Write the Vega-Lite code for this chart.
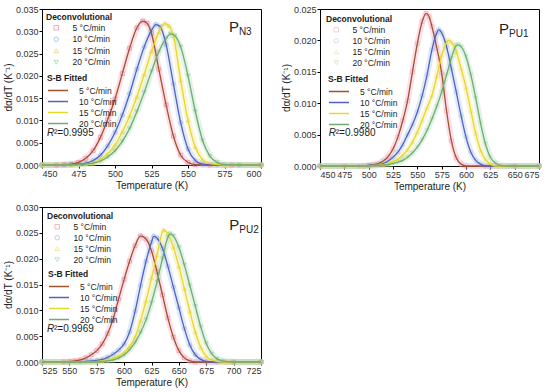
{
  "$schema": "https://vega.github.io/schema/vega-lite/v6.json",
  "padding": {"left": 2, "top": 4, "right": 4, "bottom": 2},
  "background": "white",
  "datasets": {
    "n3": [
      {"T":450,"v":0,"r":"5 °C/min"},{"T":460,"v":0,"r":"5 °C/min"},{"T":465,"v":0.0001,"r":"5 °C/min"},{"T":470,"v":0.0002,"r":"5 °C/min"},{"T":475,"v":0.0006,"r":"5 °C/min"},{"T":480,"v":0.0015,"r":"5 °C/min"},{"T":485,"v":0.0032,"r":"5 °C/min"},{"T":490,"v":0.0062,"r":"5 °C/min"},{"T":495,"v":0.0102,"r":"5 °C/min"},{"T":500,"v":0.0148,"r":"5 °C/min"},{"T":505,"v":0.0205,"r":"5 °C/min"},{"T":510,"v":0.0262,"r":"5 °C/min"},{"T":515,"v":0.0308,"r":"5 °C/min"},{"T":519,"v":0.0323,"r":"5 °C/min"},{"T":522,"v":0.0318,"r":"5 °C/min"},{"T":525,"v":0.0295,"r":"5 °C/min"},{"T":530,"v":0.0215,"r":"5 °C/min"},{"T":535,"v":0.0135,"r":"5 °C/min"},{"T":540,"v":0.0065,"r":"5 °C/min"},{"T":545,"v":0.0022,"r":"5 °C/min"},{"T":550,"v":0.0006,"r":"5 °C/min"},{"T":555,"v":0.0001,"r":"5 °C/min"},{"T":565,"v":0,"r":"5 °C/min"},{"T":580,"v":0,"r":"5 °C/min"},{"T":600,"v":0,"r":"5 °C/min"},
      {"T":450,"v":0,"r":"10 °C/min"},{"T":465,"v":0,"r":"10 °C/min"},{"T":470,"v":0.0001,"r":"10 °C/min"},{"T":475,"v":0.0002,"r":"10 °C/min"},{"T":480,"v":0.0004,"r":"10 °C/min"},{"T":485,"v":0.001,"r":"10 °C/min"},{"T":490,"v":0.0022,"r":"10 °C/min"},{"T":495,"v":0.0043,"r":"10 °C/min"},{"T":500,"v":0.0073,"r":"10 °C/min"},{"T":505,"v":0.0112,"r":"10 °C/min"},{"T":510,"v":0.016,"r":"10 °C/min"},{"T":515,"v":0.0215,"r":"10 °C/min"},{"T":520,"v":0.0265,"r":"10 °C/min"},{"T":525,"v":0.0302,"r":"10 °C/min"},{"T":528,"v":0.0315,"r":"10 °C/min"},{"T":531,"v":0.031,"r":"10 °C/min"},{"T":535,"v":0.027,"r":"10 °C/min"},{"T":540,"v":0.0182,"r":"10 °C/min"},{"T":545,"v":0.0095,"r":"10 °C/min"},{"T":550,"v":0.0036,"r":"10 °C/min"},{"T":555,"v":0.001,"r":"10 °C/min"},{"T":560,"v":0.0002,"r":"10 °C/min"},{"T":570,"v":0,"r":"10 °C/min"},{"T":585,"v":0,"r":"10 °C/min"},{"T":600,"v":0,"r":"10 °C/min"},
      {"T":450,"v":0,"r":"15 °C/min"},{"T":470,"v":0,"r":"15 °C/min"},{"T":475,"v":0.0001,"r":"15 °C/min"},{"T":480,"v":0.0002,"r":"15 °C/min"},{"T":485,"v":0.0005,"r":"15 °C/min"},{"T":490,"v":0.0012,"r":"15 °C/min"},{"T":495,"v":0.0025,"r":"15 °C/min"},{"T":500,"v":0.0045,"r":"15 °C/min"},{"T":505,"v":0.0074,"r":"15 °C/min"},{"T":510,"v":0.011,"r":"15 °C/min"},{"T":515,"v":0.0153,"r":"15 °C/min"},{"T":520,"v":0.0203,"r":"15 °C/min"},{"T":525,"v":0.0255,"r":"15 °C/min"},{"T":530,"v":0.0298,"r":"15 °C/min"},{"T":534,"v":0.0317,"r":"15 °C/min"},{"T":537,"v":0.0312,"r":"15 °C/min"},{"T":540,"v":0.029,"r":"15 °C/min"},{"T":545,"v":0.019,"r":"15 °C/min"},{"T":550,"v":0.01,"r":"15 °C/min"},{"T":555,"v":0.004,"r":"15 °C/min"},{"T":560,"v":0.0012,"r":"15 °C/min"},{"T":565,"v":0.0003,"r":"15 °C/min"},{"T":575,"v":0,"r":"15 °C/min"},{"T":600,"v":0,"r":"15 °C/min"},
      {"T":450,"v":0,"r":"20 °C/min"},{"T":470,"v":0,"r":"20 °C/min"},{"T":475,"v":0.0001,"r":"20 °C/min"},{"T":480,"v":0.0002,"r":"20 °C/min"},{"T":485,"v":0.0004,"r":"20 °C/min"},{"T":490,"v":0.0009,"r":"20 °C/min"},{"T":495,"v":0.0018,"r":"20 °C/min"},{"T":500,"v":0.0032,"r":"20 °C/min"},{"T":505,"v":0.0053,"r":"20 °C/min"},{"T":510,"v":0.0082,"r":"20 °C/min"},{"T":515,"v":0.012,"r":"20 °C/min"},{"T":520,"v":0.0163,"r":"20 °C/min"},{"T":525,"v":0.021,"r":"20 °C/min"},{"T":530,"v":0.0254,"r":"20 °C/min"},{"T":535,"v":0.0284,"r":"20 °C/min"},{"T":538,"v":0.0294,"r":"20 °C/min"},{"T":541,"v":0.029,"r":"20 °C/min"},{"T":545,"v":0.0265,"r":"20 °C/min"},{"T":550,"v":0.02,"r":"20 °C/min"},{"T":555,"v":0.012,"r":"20 °C/min"},{"T":560,"v":0.0055,"r":"20 °C/min"},{"T":565,"v":0.002,"r":"20 °C/min"},{"T":570,"v":0.0006,"r":"20 °C/min"},{"T":575,"v":0.0001,"r":"20 °C/min"},{"T":585,"v":0,"r":"20 °C/min"},{"T":600,"v":0,"r":"20 °C/min"}
    ],
    "pu1": [
      {"T":450,"v":0,"r":"5 °C/min"},{"T":475,"v":0,"r":"5 °C/min"},{"T":495,"v":0,"r":"5 °C/min"},{"T":500,"v":0.0001,"r":"5 °C/min"},{"T":505,"v":0.0002,"r":"5 °C/min"},{"T":510,"v":0.0004,"r":"5 °C/min"},{"T":515,"v":0.0008,"r":"5 °C/min"},{"T":520,"v":0.0015,"r":"5 °C/min"},{"T":525,"v":0.0027,"r":"5 °C/min"},{"T":530,"v":0.0046,"r":"5 °C/min"},{"T":535,"v":0.0072,"r":"5 °C/min"},{"T":540,"v":0.0104,"r":"5 °C/min"},{"T":545,"v":0.015,"r":"5 °C/min"},{"T":550,"v":0.0195,"r":"5 °C/min"},{"T":555,"v":0.023,"r":"5 °C/min"},{"T":559,"v":0.0243,"r":"5 °C/min"},{"T":562,"v":0.0238,"r":"5 °C/min"},{"T":565,"v":0.0222,"r":"5 °C/min"},{"T":570,"v":0.0188,"r":"5 °C/min"},{"T":575,"v":0.0148,"r":"5 °C/min"},{"T":580,"v":0.0088,"r":"5 °C/min"},{"T":585,"v":0.004,"r":"5 °C/min"},{"T":590,"v":0.0013,"r":"5 °C/min"},{"T":595,"v":0.0003,"r":"5 °C/min"},{"T":600,"v":0,"r":"5 °C/min"},{"T":625,"v":0,"r":"5 °C/min"},{"T":650,"v":0,"r":"5 °C/min"},{"T":675,"v":0,"r":"5 °C/min"},
      {"T":450,"v":0,"r":"10 °C/min"},{"T":490,"v":0,"r":"10 °C/min"},{"T":500,"v":0.0001,"r":"10 °C/min"},{"T":510,"v":0.0002,"r":"10 °C/min"},{"T":515,"v":0.0004,"r":"10 °C/min"},{"T":520,"v":0.0008,"r":"10 °C/min"},{"T":525,"v":0.0014,"r":"10 °C/min"},{"T":530,"v":0.0022,"r":"10 °C/min"},{"T":535,"v":0.0034,"r":"10 °C/min"},{"T":540,"v":0.005,"r":"10 °C/min"},{"T":545,"v":0.0066,"r":"10 °C/min"},{"T":550,"v":0.0086,"r":"10 °C/min"},{"T":555,"v":0.0112,"r":"10 °C/min"},{"T":560,"v":0.0145,"r":"10 °C/min"},{"T":565,"v":0.0185,"r":"10 °C/min"},{"T":570,"v":0.0212,"r":"10 °C/min"},{"T":572,"v":0.0217,"r":"10 °C/min"},{"T":575,"v":0.0212,"r":"10 °C/min"},{"T":580,"v":0.019,"r":"10 °C/min"},{"T":585,"v":0.0155,"r":"10 °C/min"},{"T":590,"v":0.0118,"r":"10 °C/min"},{"T":595,"v":0.008,"r":"10 °C/min"},{"T":600,"v":0.0046,"r":"10 °C/min"},{"T":605,"v":0.0022,"r":"10 °C/min"},{"T":610,"v":0.0009,"r":"10 °C/min"},{"T":615,"v":0.0003,"r":"10 °C/min"},{"T":620,"v":0,"r":"10 °C/min"},{"T":650,"v":0,"r":"10 °C/min"},{"T":675,"v":0,"r":"10 °C/min"},
      {"T":450,"v":0,"r":"15 °C/min"},{"T":495,"v":0,"r":"15 °C/min"},{"T":505,"v":0.0001,"r":"15 °C/min"},{"T":515,"v":0.0002,"r":"15 °C/min"},{"T":520,"v":0.0004,"r":"15 °C/min"},{"T":525,"v":0.0007,"r":"15 °C/min"},{"T":530,"v":0.0011,"r":"15 °C/min"},{"T":535,"v":0.0017,"r":"15 °C/min"},{"T":540,"v":0.0026,"r":"15 °C/min"},{"T":545,"v":0.0038,"r":"15 °C/min"},{"T":550,"v":0.0054,"r":"15 °C/min"},{"T":555,"v":0.0073,"r":"15 °C/min"},{"T":560,"v":0.0093,"r":"15 °C/min"},{"T":565,"v":0.0112,"r":"15 °C/min"},{"T":570,"v":0.0143,"r":"15 °C/min"},{"T":575,"v":0.0176,"r":"15 °C/min"},{"T":580,"v":0.0197,"r":"15 °C/min"},{"T":582,"v":0.02,"r":"15 °C/min"},{"T":585,"v":0.0197,"r":"15 °C/min"},{"T":590,"v":0.0182,"r":"15 °C/min"},{"T":595,"v":0.0155,"r":"15 °C/min"},{"T":600,"v":0.0125,"r":"15 °C/min"},{"T":605,"v":0.0088,"r":"15 °C/min"},{"T":610,"v":0.0052,"r":"15 °C/min"},{"T":615,"v":0.0025,"r":"15 °C/min"},{"T":620,"v":0.001,"r":"15 °C/min"},{"T":625,"v":0.0003,"r":"15 °C/min"},{"T":630,"v":0,"r":"15 °C/min"},{"T":650,"v":0,"r":"15 °C/min"},{"T":675,"v":0,"r":"15 °C/min"},
      {"T":450,"v":0,"r":"20 °C/min"},{"T":500,"v":0,"r":"20 °C/min"},{"T":510,"v":0.0001,"r":"20 °C/min"},{"T":520,"v":0.0002,"r":"20 °C/min"},{"T":525,"v":0.0004,"r":"20 °C/min"},{"T":530,"v":0.0006,"r":"20 °C/min"},{"T":535,"v":0.0009,"r":"20 °C/min"},{"T":540,"v":0.0014,"r":"20 °C/min"},{"T":545,"v":0.0021,"r":"20 °C/min"},{"T":550,"v":0.003,"r":"20 °C/min"},{"T":555,"v":0.0042,"r":"20 °C/min"},{"T":560,"v":0.0057,"r":"20 °C/min"},{"T":565,"v":0.0075,"r":"20 °C/min"},{"T":570,"v":0.0095,"r":"20 °C/min"},{"T":575,"v":0.0118,"r":"20 °C/min"},{"T":580,"v":0.0145,"r":"20 °C/min"},{"T":585,"v":0.0172,"r":"20 °C/min"},{"T":590,"v":0.0192,"r":"20 °C/min"},{"T":592,"v":0.0193,"r":"20 °C/min"},{"T":595,"v":0.019,"r":"20 °C/min"},{"T":600,"v":0.0174,"r":"20 °C/min"},{"T":605,"v":0.0145,"r":"20 °C/min"},{"T":610,"v":0.0108,"r":"20 °C/min"},{"T":615,"v":0.0068,"r":"20 °C/min"},{"T":620,"v":0.0035,"r":"20 °C/min"},{"T":625,"v":0.0014,"r":"20 °C/min"},{"T":630,"v":0.0005,"r":"20 °C/min"},{"T":635,"v":0.0001,"r":"20 °C/min"},{"T":645,"v":0,"r":"20 °C/min"},{"T":675,"v":0,"r":"20 °C/min"}
    ],
    "pu2": [
      {"T":525,"v":0,"r":"5 °C/min"},{"T":545,"v":0,"r":"5 °C/min"},{"T":550,"v":0.0001,"r":"5 °C/min"},{"T":555,"v":0.0002,"r":"5 °C/min"},{"T":560,"v":0.0004,"r":"5 °C/min"},{"T":565,"v":0.0008,"r":"5 °C/min"},{"T":570,"v":0.0014,"r":"5 °C/min"},{"T":575,"v":0.0022,"r":"5 °C/min"},{"T":580,"v":0.0035,"r":"5 °C/min"},{"T":585,"v":0.0055,"r":"5 °C/min"},{"T":590,"v":0.0084,"r":"5 °C/min"},{"T":595,"v":0.0122,"r":"5 °C/min"},{"T":600,"v":0.016,"r":"5 °C/min"},{"T":605,"v":0.0195,"r":"5 °C/min"},{"T":610,"v":0.0225,"r":"5 °C/min"},{"T":615,"v":0.0244,"r":"5 °C/min"},{"T":620,"v":0.0238,"r":"5 °C/min"},{"T":625,"v":0.0215,"r":"5 °C/min"},{"T":630,"v":0.0175,"r":"5 °C/min"},{"T":635,"v":0.013,"r":"5 °C/min"},{"T":640,"v":0.0085,"r":"5 °C/min"},{"T":645,"v":0.0048,"r":"5 °C/min"},{"T":650,"v":0.0022,"r":"5 °C/min"},{"T":655,"v":0.0008,"r":"5 °C/min"},{"T":660,"v":0.0002,"r":"5 °C/min"},{"T":665,"v":0,"r":"5 °C/min"},{"T":700,"v":0,"r":"5 °C/min"},{"T":725,"v":0,"r":"5 °C/min"},
      {"T":525,"v":0,"r":"10 °C/min"},{"T":560,"v":0,"r":"10 °C/min"},{"T":565,"v":0.0001,"r":"10 °C/min"},{"T":570,"v":0.0002,"r":"10 °C/min"},{"T":575,"v":0.0003,"r":"10 °C/min"},{"T":580,"v":0.0005,"r":"10 °C/min"},{"T":585,"v":0.0009,"r":"10 °C/min"},{"T":590,"v":0.0015,"r":"10 °C/min"},{"T":595,"v":0.0023,"r":"10 °C/min"},{"T":600,"v":0.0035,"r":"10 °C/min"},{"T":605,"v":0.0058,"r":"10 °C/min"},{"T":610,"v":0.0098,"r":"10 °C/min"},{"T":615,"v":0.0148,"r":"10 °C/min"},{"T":620,"v":0.0195,"r":"10 °C/min"},{"T":625,"v":0.0232,"r":"10 °C/min"},{"T":627,"v":0.0243,"r":"10 °C/min"},{"T":630,"v":0.024,"r":"10 °C/min"},{"T":635,"v":0.022,"r":"10 °C/min"},{"T":640,"v":0.0185,"r":"10 °C/min"},{"T":645,"v":0.0145,"r":"10 °C/min"},{"T":650,"v":0.0105,"r":"10 °C/min"},{"T":655,"v":0.0065,"r":"10 °C/min"},{"T":660,"v":0.0033,"r":"10 °C/min"},{"T":665,"v":0.0014,"r":"10 °C/min"},{"T":670,"v":0.0005,"r":"10 °C/min"},{"T":675,"v":0.0001,"r":"10 °C/min"},{"T":685,"v":0,"r":"10 °C/min"},{"T":725,"v":0,"r":"10 °C/min"},
      {"T":525,"v":0,"r":"15 °C/min"},{"T":570,"v":0,"r":"15 °C/min"},{"T":575,"v":0.0001,"r":"15 °C/min"},{"T":580,"v":0.0002,"r":"15 °C/min"},{"T":585,"v":0.0004,"r":"15 °C/min"},{"T":590,"v":0.0007,"r":"15 °C/min"},{"T":595,"v":0.0011,"r":"15 °C/min"},{"T":600,"v":0.0018,"r":"15 °C/min"},{"T":605,"v":0.003,"r":"15 °C/min"},{"T":610,"v":0.0048,"r":"15 °C/min"},{"T":615,"v":0.008,"r":"15 °C/min"},{"T":620,"v":0.0118,"r":"15 °C/min"},{"T":625,"v":0.0162,"r":"15 °C/min"},{"T":630,"v":0.0207,"r":"15 °C/min"},{"T":636,"v":0.0255,"r":"15 °C/min"},{"T":640,"v":0.0248,"r":"15 °C/min"},{"T":645,"v":0.0222,"r":"15 °C/min"},{"T":650,"v":0.0185,"r":"15 °C/min"},{"T":655,"v":0.0142,"r":"15 °C/min"},{"T":660,"v":0.0098,"r":"15 °C/min"},{"T":665,"v":0.0058,"r":"15 °C/min"},{"T":670,"v":0.0028,"r":"15 °C/min"},{"T":675,"v":0.0011,"r":"15 °C/min"},{"T":680,"v":0.0004,"r":"15 °C/min"},{"T":685,"v":0.0001,"r":"15 °C/min"},{"T":695,"v":0,"r":"15 °C/min"},{"T":725,"v":0,"r":"15 °C/min"},
      {"T":525,"v":0,"r":"20 °C/min"},{"T":575,"v":0,"r":"20 °C/min"},{"T":580,"v":0.0001,"r":"20 °C/min"},{"T":585,"v":0.0002,"r":"20 °C/min"},{"T":590,"v":0.0004,"r":"20 °C/min"},{"T":595,"v":0.0008,"r":"20 °C/min"},{"T":600,"v":0.0014,"r":"20 °C/min"},{"T":605,"v":0.0024,"r":"20 °C/min"},{"T":610,"v":0.0038,"r":"20 °C/min"},{"T":615,"v":0.0057,"r":"20 °C/min"},{"T":620,"v":0.0082,"r":"20 °C/min"},{"T":625,"v":0.0115,"r":"20 °C/min"},{"T":630,"v":0.0155,"r":"20 °C/min"},{"T":635,"v":0.02,"r":"20 °C/min"},{"T":640,"v":0.0242,"r":"20 °C/min"},{"T":642,"v":0.0248,"r":"20 °C/min"},{"T":645,"v":0.0244,"r":"20 °C/min"},{"T":650,"v":0.0222,"r":"20 °C/min"},{"T":655,"v":0.0188,"r":"20 °C/min"},{"T":660,"v":0.0148,"r":"20 °C/min"},{"T":665,"v":0.0108,"r":"20 °C/min"},{"T":670,"v":0.0068,"r":"20 °C/min"},{"T":675,"v":0.0036,"r":"20 °C/min"},{"T":680,"v":0.0016,"r":"20 °C/min"},{"T":685,"v":0.0006,"r":"20 °C/min"},{"T":690,"v":0.0002,"r":"20 °C/min"},{"T":700,"v":0,"r":"20 °C/min"},{"T":725,"v":0,"r":"20 °C/min"}
    ]
  },
  "resolve": {"scale": {"color": "independent", "shape": "independent", "stroke": "independent", "fill": "independent"}, "legend": {"color": "independent", "shape": "independent", "stroke": "independent"}},
  "vconcat": [
    {
      "resolve": {"scale": {"color": "independent", "shape": "independent", "stroke": "independent", "fill": "independent"}, "legend": {"color": "independent", "shape": "independent", "stroke": "independent"}},
      "hconcat": [
        {
          "width": 219, "height": 156,
          "data": {"name": "n3"},
          "layer": [
            {"mark": {"type": "trail", "opacity": 0.35},
             "encoding": {"x": {"field": "T", "type": "quantitative", "scale": {"domain": [450, 600], "nice": false}, "axis": {"values": [450,475,500,525,550,575,600], "title": "Temperature (K)"}},
                          "y": {"field": "v", "type": "quantitative", "scale": {"domain": [0, 0.035], "nice": false}, "axis": {"values": [0,0.005,0.01,0.015,0.02,0.025,0.03,0.035], "format": ".3f", "title": "dα/dT (K⁻¹)"}},
                          "fill": {"field": "r", "type": "nominal", "scale": {"domain": ["5 °C/min","10 °C/min","15 °C/min","20 °C/min"], "range": ["#f5a3bd","#a6c4ef","#f3e27e","#a9deb1"]}, "legend": null},
                          "size": {"value": 6}}},
            {"mark": {"type": "point", "filled": false, "size": 14, "strokeWidth": 0.8, "opacity": 0.9},
             "encoding": {"x": {"field": "T", "type": "quantitative", "axis": {"values": [450,475,500,525,550,575,600], "title": "Temperature (K)"}}, "y": {"field": "v", "type": "quantitative", "axis": {"values": [0,0.005,0.01,0.015,0.02,0.025,0.03,0.035], "format": ".3f", "title": "dα/dT (K⁻¹)"}},
                          "color": {"field": "r", "type": "nominal", "scale": {"domain": ["5 °C/min","10 °C/min","15 °C/min","20 °C/min"], "range": ["#f08aa8","#8fb3ea","#eed45a","#8fd49b"]}, "legend": {"title": "Deconvolutional", "orient": "top-left", "offset": 4, "symbolOffset": 6, "labelOffset": 12, "rowPadding": 2.5}},
                          "shape": {"field": "r", "type": "nominal", "scale": {"domain": ["5 °C/min","10 °C/min","15 °C/min","20 °C/min"], "range": ["square","circle","triangle-up","triangle-down"]}, "legend": {"title": "Deconvolutional", "orient": "top-left", "offset": 4, "symbolOffset": 6, "labelOffset": 12, "rowPadding": 2.5}}}},
            {"mark": {"type": "line", "strokeWidth": 1.3, "interpolate": "monotone"},
             "encoding": {"x": {"field": "T", "type": "quantitative", "axis": {"values": [450,475,500,525,550,575,600], "title": "Temperature (K)"}}, "y": {"field": "v", "type": "quantitative", "axis": {"values": [0,0.005,0.01,0.015,0.02,0.025,0.03,0.035], "format": ".3f", "title": "dα/dT (K⁻¹)"}},
                          "stroke": {"field": "r", "type": "nominal", "scale": {"domain": ["5 °C/min","10 °C/min","15 °C/min","20 °C/min"], "range": ["#a3502e","#5360c2","#e3d82c","#6fab72"]}, "legend": {"title": "S-B Fitted", "orient": "none", "legendX": 5, "legendY": 65, "symbolType": "M-2,0H2", "symbolSize": 100, "symbolStrokeWidth": 1.5, "symbolOffset": 5, "labelOffset": 15, "rowPadding": -1}}}},
            {"data": {"values": [{}]}, "mark": {"type": "text", "fontSize": 10, "fontStyle": "italic", "align": "left", "baseline": "middle"},
             "encoding": {"x": {"datum": 453.4, "axis": {"values": [450,475,500,525,550,575,600], "title": "Temperature (K)"}}, "y": {"datum": 0.0072, "axis": {"values": [0,0.005,0.01,0.015,0.02,0.025,0.03,0.035], "format": ".3f", "title": "dα/dT (K⁻¹)"}}, "text": {"value": "R"}}},
            {"data": {"values": [{}]}, "mark": {"type": "text", "fontSize": 10, "align": "left", "baseline": "middle", "dx": 7},
             "encoding": {"x": {"datum": 453.4, "axis": {"values": [450,475,500,525,550,575,600], "title": "Temperature (K)"}}, "y": {"datum": 0.0072, "axis": {"values": [0,0.005,0.01,0.015,0.02,0.025,0.03,0.035], "format": ".3f", "title": "dα/dT (K⁻¹)"}}, "text": {"value": "²=0.9995"}}},
            {"data": {"values": [{}]}, "mark": {"type": "text", "fontSize": 15, "align": "left", "baseline": "alphabetic"},
             "encoding": {"x": {"datum": 578, "axis": {"values": [450,475,500,525,550,575,600], "title": "Temperature (K)"}}, "y": {"datum": 0.0298, "axis": {"values": [0,0.005,0.01,0.015,0.02,0.025,0.03,0.035], "format": ".3f", "title": "dα/dT (K⁻¹)"}}, "text": {"value": "P"}}},
            {"data": {"values": [{}]}, "mark": {"type": "text", "fontSize": 10, "align": "left", "baseline": "alphabetic", "dx": 10, "dy": 3},
             "encoding": {"x": {"datum": 578, "axis": {"values": [450,475,500,525,550,575,600], "title": "Temperature (K)"}}, "y": {"datum": 0.0298, "axis": {"values": [0,0.005,0.01,0.015,0.02,0.025,0.03,0.035], "format": ".3f", "title": "dα/dT (K⁻¹)"}}, "text": {"value": "N3"}}}
          ],
          "resolve": {"scale": {"fill": "independent"}}
        },
        {
          "width": 219, "height": 157,
          "data": {"name": "pu1"},
          "layer": [
            {"mark": {"type": "trail", "opacity": 0.35},
             "encoding": {"x": {"field": "T", "type": "quantitative", "scale": {"domain": [450, 675], "nice": false}, "axis": {"values": [450,475,500,525,550,575,600,625,650,675], "title": "Temperature (K)"}},
                          "y": {"field": "v", "type": "quantitative", "scale": {"domain": [0, 0.025], "nice": false}, "axis": {"values": [0,0.005,0.01,0.015,0.02,0.025], "format": ".3f", "title": "dα/dT (K⁻¹)"}},
                          "fill": {"field": "r", "type": "nominal", "scale": {"domain": ["5 °C/min","10 °C/min","15 °C/min","20 °C/min"], "range": ["#f5a3bd","#a6c4ef","#f3e27e","#a9deb1"]}, "legend": null},
                          "size": {"value": 6}}},
            {"mark": {"type": "point", "filled": false, "size": 14, "strokeWidth": 0.8, "opacity": 0.5},
             "encoding": {"x": {"field": "T", "type": "quantitative", "axis": {"values": [450,475,500,525,550,575,600,625,650,675], "title": "Temperature (K)"}}, "y": {"field": "v", "type": "quantitative", "axis": {"values": [0,0.005,0.01,0.015,0.02,0.025], "format": ".3f", "title": "dα/dT (K⁻¹)"}},
                          "color": {"field": "r", "type": "nominal", "scale": {"domain": ["5 °C/min","10 °C/min","15 °C/min","20 °C/min"], "range": ["#f08aa8","#8fb3ea","#eed45a","#8fd49b"]}, "legend": {"title": "Deconvolutional", "orient": "top-left", "offset": 6, "symbolOffset": 6, "labelOffset": 12, "rowPadding": 2, "symbolOpacity": 0.5}},
                          "shape": {"field": "r", "type": "nominal", "scale": {"domain": ["5 °C/min","10 °C/min","15 °C/min","20 °C/min"], "range": ["square","circle","triangle-up","triangle-down"]}, "legend": {"title": "Deconvolutional", "orient": "top-left", "offset": 6, "symbolOffset": 6, "labelOffset": 12, "rowPadding": 2, "symbolOpacity": 0.5}}}},
            {"mark": {"type": "line", "strokeWidth": 1.3, "interpolate": "monotone"},
             "encoding": {"x": {"field": "T", "type": "quantitative", "axis": {"values": [450,475,500,525,550,575,600,625,650,675], "title": "Temperature (K)"}}, "y": {"field": "v", "type": "quantitative", "axis": {"values": [0,0.005,0.01,0.015,0.02,0.025], "format": ".3f", "title": "dα/dT (K⁻¹)"}},
                          "stroke": {"field": "r", "type": "nominal", "scale": {"domain": ["5 °C/min","10 °C/min","15 °C/min","20 °C/min"], "range": ["#a3502e","#5360c2","#e3d82c","#6fab72"]}, "legend": {"title": "S-B Fitted", "orient": "none", "legendX": 8, "legendY": 66, "symbolType": "M-2,0H2", "symbolSize": 100, "symbolStrokeWidth": 1.5, "symbolOffset": 5, "labelOffset": 15, "rowPadding": -1}}}},
            {"data": {"values": [{}]}, "mark": {"type": "text", "fontSize": 10, "fontStyle": "italic", "align": "left", "baseline": "middle"},
             "encoding": {"x": {"datum": 459, "axis": {"values": [450,475,500,525,550,575,600,625,650,675], "title": "Temperature (K)"}}, "y": {"datum": 0.0052, "axis": {"values": [0,0.005,0.01,0.015,0.02,0.025], "format": ".3f", "title": "dα/dT (K⁻¹)"}}, "text": {"value": "R"}}},
            {"data": {"values": [{}]}, "mark": {"type": "text", "fontSize": 10, "align": "left", "baseline": "middle", "dx": 7},
             "encoding": {"x": {"datum": 459, "axis": {"values": [450,475,500,525,550,575,600,625,650,675], "title": "Temperature (K)"}}, "y": {"datum": 0.0052, "axis": {"values": [0,0.005,0.01,0.015,0.02,0.025], "format": ".3f", "title": "dα/dT (K⁻¹)"}}, "text": {"value": "²=0.9980"}}},
            {"data": {"values": [{}]}, "mark": {"type": "text", "fontSize": 15, "align": "left", "baseline": "alphabetic"},
             "encoding": {"x": {"datum": 634, "axis": {"values": [450,475,500,525,550,575,600,625,650,675], "title": "Temperature (K)"}}, "y": {"datum": 0.021, "axis": {"values": [0,0.005,0.01,0.015,0.02,0.025], "format": ".3f", "title": "dα/dT (K⁻¹)"}}, "text": {"value": "P"}}},
            {"data": {"values": [{}]}, "mark": {"type": "text", "fontSize": 10, "align": "left", "baseline": "alphabetic", "dx": 10, "dy": 3},
             "encoding": {"x": {"datum": 634, "axis": {"values": [450,475,500,525,550,575,600,625,650,675], "title": "Temperature (K)"}}, "y": {"datum": 0.021, "axis": {"values": [0,0.005,0.01,0.015,0.02,0.025], "format": ".3f", "title": "dα/dT (K⁻¹)"}}, "text": {"value": "PU1"}}}
          ],
          "resolve": {"scale": {"fill": "independent"}}
        }
      ],
      "spacing": 15
    },
    {
      "width": 219, "height": 155,
      "data": {"name": "pu2"},
      "layer": [
        {"mark": {"type": "trail", "opacity": 0.35},
         "encoding": {"x": {"field": "T", "type": "quantitative", "scale": {"domain": [525, 725], "nice": false}, "axis": {"values": [525,550,575,600,625,650,675,700,725], "title": "Temperature (K)"}},
                      "y": {"field": "v", "type": "quantitative", "scale": {"domain": [0, 0.03], "nice": false}, "axis": {"values": [0,0.005,0.01,0.015,0.02,0.025,0.03], "format": ".3f", "title": "dα/dT (K⁻¹)"}},
                      "fill": {"field": "r", "type": "nominal", "scale": {"domain": ["5 °C/min","10 °C/min","15 °C/min","20 °C/min"], "range": ["#f5a3bd","#a6c4ef","#f3e27e","#a9deb1"]}, "legend": null},
                      "size": {"value": 6}}},
        {"mark": {"type": "point", "filled": false, "size": 14, "strokeWidth": 0.8, "opacity": 0.8},
         "encoding": {"x": {"field": "T", "type": "quantitative", "axis": {"values": [525,550,575,600,625,650,675,700,725], "title": "Temperature (K)"}}, "y": {"field": "v", "type": "quantitative", "axis": {"values": [0,0.005,0.01,0.015,0.02,0.025,0.03], "format": ".3f", "title": "dα/dT (K⁻¹)"}},
                      "color": {"field": "r", "type": "nominal", "scale": {"domain": ["5 °C/min","10 °C/min","15 °C/min","20 °C/min"], "range": ["#f08aa8","#8fb3ea","#eed45a","#8fd49b"]}, "legend": {"title": "Deconvolutional", "orient": "top-left", "offset": 5, "symbolOffset": 6, "labelOffset": 12, "rowPadding": 2}},
                      "shape": {"field": "r", "type": "nominal", "scale": {"domain": ["5 °C/min","10 °C/min","15 °C/min","20 °C/min"], "range": ["square","circle","triangle-up","triangle-down"]}, "legend": {"title": "Deconvolutional", "orient": "top-left", "offset": 5, "symbolOffset": 6, "labelOffset": 12, "rowPadding": 2}}}},
        {"mark": {"type": "line", "strokeWidth": 1.3, "interpolate": "monotone"},
         "encoding": {"x": {"field": "T", "type": "quantitative", "axis": {"values": [525,550,575,600,625,650,675,700,725], "title": "Temperature (K)"}}, "y": {"field": "v", "type": "quantitative", "axis": {"values": [0,0.005,0.01,0.015,0.02,0.025,0.03], "format": ".3f", "title": "dα/dT (K⁻¹)"}},
                      "stroke": {"field": "r", "type": "nominal", "scale": {"domain": ["5 °C/min","10 °C/min","15 °C/min","20 °C/min"], "range": ["#a3502e","#5360c2","#e3d82c","#6fab72"]}, "legend": {"title": "S-B Fitted", "orient": "none", "legendX": 6, "legendY": 63, "symbolType": "M-2,0H2", "symbolSize": 100, "symbolStrokeWidth": 1.5, "symbolOffset": 5, "labelOffset": 15, "rowPadding": -1}}}},
        {"data": {"values": [{}]}, "mark": {"type": "text", "fontSize": 10, "fontStyle": "italic", "align": "left", "baseline": "middle"},
         "encoding": {"x": {"datum": 529.6, "axis": {"values": [525,550,575,600,625,650,675,700,725], "title": "Temperature (K)"}}, "y": {"datum": 0.0064, "axis": {"values": [0,0.005,0.01,0.015,0.02,0.025,0.03], "format": ".3f", "title": "dα/dT (K⁻¹)"}}, "text": {"value": "R"}}},
        {"data": {"values": [{}]}, "mark": {"type": "text", "fontSize": 10, "align": "left", "baseline": "middle", "dx": 7},
         "encoding": {"x": {"datum": 529.6, "axis": {"values": [525,550,575,600,625,650,675,700,725], "title": "Temperature (K)"}}, "y": {"datum": 0.0064, "axis": {"values": [0,0.005,0.01,0.015,0.02,0.025,0.03], "format": ".3f", "title": "dα/dT (K⁻¹)"}}, "text": {"value": "²=0.9969"}}},
        {"data": {"values": [{}]}, "mark": {"type": "text", "fontSize": 15, "align": "left", "baseline": "alphabetic"},
         "encoding": {"x": {"datum": 696, "axis": {"values": [525,550,575,600,625,650,675,700,725], "title": "Temperature (K)"}}, "y": {"datum": 0.0255, "axis": {"values": [0,0.005,0.01,0.015,0.02,0.025,0.03], "format": ".3f", "title": "dα/dT (K⁻¹)"}}, "text": {"value": "P"}}},
        {"data": {"values": [{}]}, "mark": {"type": "text", "fontSize": 10, "align": "left", "baseline": "alphabetic", "dx": 10, "dy": 3},
         "encoding": {"x": {"datum": 696, "axis": {"values": [525,550,575,600,625,650,675,700,725], "title": "Temperature (K)"}}, "y": {"datum": 0.0255, "axis": {"values": [0,0.005,0.01,0.015,0.02,0.025,0.03], "format": ".3f", "title": "dα/dT (K⁻¹)"}}, "text": {"value": "PU2"}}}
      ],
      "resolve": {"scale": {"fill": "independent"}}
    }
  ],
  "spacing": 10,
  "config": {
    "font": "Liberation Sans",
    "view": {"stroke": "black", "strokeWidth": 1},
    "axis": {"grid": false, "domainColor": "black", "tickColor": "black", "labelFontSize": 9, "labelColor": "#333333", "labelOverlap": false, "titleFontSize": 10, "titleFontWeight": "normal", "titleColor": "#222222", "tickSize": 3, "labelPadding": 1, "titlePadding": 2},
    "legend": {"titleFontSize": 8.5, "titleFontWeight": "bold", "titleColor": "#222222", "labelFontSize": 8.5, "labelColor": "#222222", "titlePadding": 2, "symbolSize": 20, "symbolStrokeWidth": 0.8},
    "text": {"color": "#222222"}
  }
}
